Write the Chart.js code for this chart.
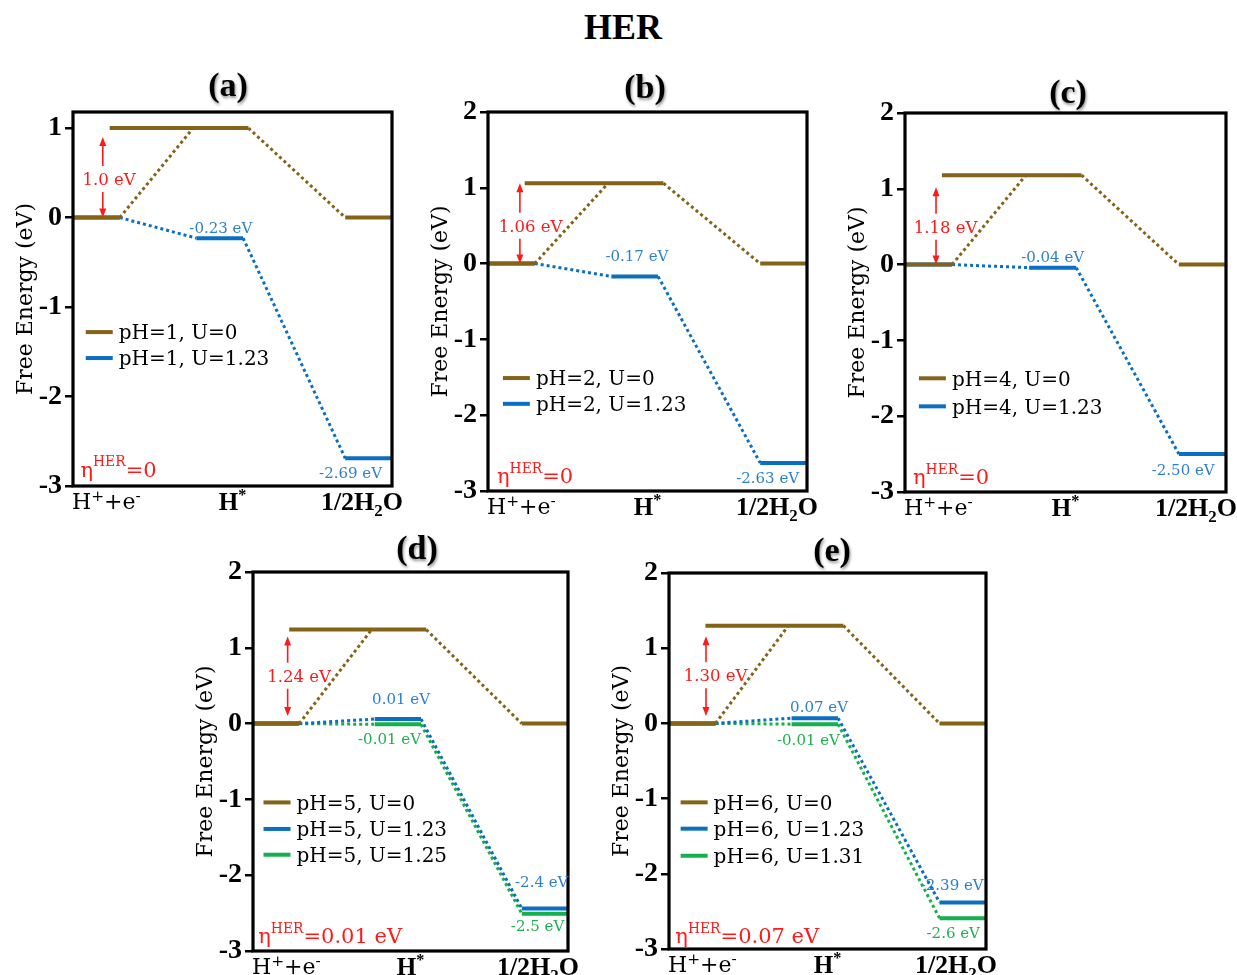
<!DOCTYPE html>
<html><head><meta charset="utf-8">
<script src="https://cdn.jsdelivr.net/npm/chart.js@4.4.1/dist/chart.umd.min.js"></script>
<style>
html,body{margin:0;padding:0;background:#fff;overflow:hidden;width:1237px;height:975px;position:relative;}
canvas{position:absolute;}
.ttl{position:absolute;font-family:"Liberation Serif",serif;font-weight:bold;transform:translate(-50%,-50%);white-space:nowrap;color:#000;line-height:1;}
.pt{font-size:34px;text-shadow:1px 2px 3px rgba(0,0,0,0.45);}
</style></head><body>
<div class="ttl" style="left:623px;top:27px;font-size:36px">HER</div>
<script>
// ---------- DATA ----------
const stepLabels = ['H^{+}+e^{-}', 'H^{*}', '1/2H_{2}O'];
const yTicksA = [1, 0, -1, -2, -3];
const yTicksB = [2, 1, 0, -1, -2, -3];

const namesA = ['pH=1, U=0', 'pH=1, U=1.23'];
const pH1_U0    = [0, 1.00, 0];
const pH1_U123  = [0, -0.23, -2.69];

const namesB = ['pH=2, U=0', 'pH=2, U=1.23'];
const pH2_U0    = [0, 1.06, 0];
const pH2_U123  = [0, -0.17, -2.63];

const namesC = ['pH=4, U=0', 'pH=4, U=1.23'];
const pH4_U0    = [0, 1.18, 0];
const pH4_U123  = [0, -0.04, -2.50];

const namesD = ['pH=5, U=0', 'pH=5, U=1.23', 'pH=5, U=1.25'];
const pH5_U0    = [0, 1.24, 0];
const pH5_U123  = [0, 0.06, -2.44];
const pH5_U125  = [0, -0.01, -2.51];

const namesE = ['pH=6, U=0', 'pH=6, U=1.23', 'pH=6, U=1.31'];
const pH6_U0    = [0, 1.30, 0];
const pH6_U123  = [0, 0.07, -2.38];
const pH6_U131  = [0, -0.01, -2.59];

const barrierLabels = ['1.0 eV', '1.06 eV', '1.18 eV', '1.24 eV', '1.30 eV'];
const etaLabels = ['η^{HER}=0', 'η^{HER}=0', 'η^{HER}=0', 'η^{HER}=0.01 eV', 'η^{HER}=0.07 eV'];
const valueLabelsA = ['-0.23 eV', '-2.69 eV'];
const valueLabelsB = ['-0.17 eV', '-2.63 eV'];
const valueLabelsC = ['-0.04 eV', '-2.50 eV'];
const valueLabelsD = ['0.01 eV', '-0.01 eV', '-2.4 eV', '-2.5 eV'];
const valueLabelsE = ['0.07 eV', '-0.01 eV', '-2.39 eV', '-2.6 eV'];
const panelTitles = ['(a)', '(b)', '(c)', '(d)', '(e)'];

// ---------- STYLE / LAYOUT ----------
const BROWN = '#846317', BLUE = '#0A6FC2', GREEN = '#14B04C', RED = '#FF1A1A';
const TBLUE = '#2F80CC', TGREEN = '#1FB050';
const SERIF = '"DejaVu Serif", serif';
const TSERIF = '"Liberation Serif", serif';
// x-scale layout of the level segments (x axis runs 0..3)
const stepSpan = [[0, 0.44], [1.16, 1.60], [2.56, 3]];
const brownTop = [0.345, 1.65];
const brownRiseEnd = 1.13;

const YW = 75, PADT = 22, PADR = 12, PADB = 36;

const panels = [
  { box:[73,112,392,486], yMax:1.18, ticks:yTicksA, title:panelTitles[0], tpos:[228,85],
    series:[{n:namesA[0], v:pH1_U0, c:BROWN, brown:true},{n:namesA[1], v:pH1_U123, c:BLUE}],
    arrow:{x:0.28, y0:0, y1:0.90, lx:0.34, ly:0.43, t:barrierLabels[0]},
    vl:[{t:valueLabelsA[0], c:TBLUE, x:1.39, y:-0.11},{t:valueLabelsA[1], c:TBLUE, x:2.61, y:-2.85}],
    eta:{t:etaLabels[0], x:0.07, y:-2.81}, leg:{x:0.12, y:[-1.28,-1.57]} },
  { box:[488,112,807,491], yMax:2, ticks:yTicksB, title:panelTitles[1], tpos:[645,87],
    series:[{n:namesB[0], v:pH2_U0, c:BROWN, brown:true},{n:namesB[1], v:pH2_U123, c:BLUE}],
    arrow:{x:0.30, y0:0, y1:1.06, lx:0.40, ly:0.50, t:barrierLabels[1]},
    vl:[{t:valueLabelsB[0], c:TBLUE, x:1.40, y:0.10},{t:valueLabelsB[1], c:TBLUE, x:2.63, y:-2.82}],
    eta:{t:etaLabels[1], x:0.085, y:-2.80}, leg:{x:0.14, y:[-1.51,-1.85]} },
  { box:[905,113,1226,492], yMax:2, ticks:yTicksB, title:panelTitles[2], tpos:[1068,92],
    series:[{n:namesC[0], v:pH4_U0, c:BROWN, brown:true},{n:namesC[1], v:pH4_U123, c:BLUE}],
    arrow:{x:0.29, y0:0, y1:1.02, lx:0.38, ly:0.50, t:barrierLabels[2]},
    vl:[{t:valueLabelsC[0], c:TBLUE, x:1.38, y:0.11},{t:valueLabelsC[1], c:TBLUE, x:2.60, y:-2.70}],
    eta:{t:etaLabels[2], x:0.075, y:-2.80}, leg:{x:0.13, y:[-1.50,-1.87]} },
  { box:[253,572,568,951], yMax:2, ticks:yTicksB, title:panelTitles[3], tpos:[417,548],
    series:[{n:namesD[0], v:pH5_U0, c:BROWN, brown:true},{n:namesD[1], v:pH5_U123, c:BLUE},{n:namesD[2], v:pH5_U125, c:GREEN}],
    arrow:{x:0.33, y0:0.1, y1:1.15, lx:0.44, ly:0.63, t:barrierLabels[3]},
    vl:[{t:valueLabelsD[0], c:TBLUE, x:1.41, y:0.33},{t:valueLabelsD[1], c:TGREEN, x:1.30, y:-0.20},
        {t:valueLabelsD[2], c:TBLUE, x:2.75, y:-2.08},{t:valueLabelsD[3], c:TGREEN, x:2.71, y:-2.66}],
    eta:{t:etaLabels[3], x:0.05, y:-2.80}, leg:{x:0.10, y:[-1.04,-1.39,-1.73]} },
  { box:[669,573,986,949], yMax:2, ticks:yTicksB, title:panelTitles[4], tpos:[832,550],
    series:[{n:namesE[0], v:pH6_U0, c:BROWN, brown:true},{n:namesE[1], v:pH6_U123, c:BLUE},{n:namesE[2], v:pH6_U131, c:GREEN}],
    arrow:{x:0.35, y0:0.1, y1:1.16, lx:0.44, ly:0.64, t:barrierLabels[4]},
    vl:[{t:valueLabelsE[0], c:TBLUE, x:1.42, y:0.23},{t:valueLabelsE[1], c:TGREEN, x:1.32, y:-0.21},
        {t:valueLabelsE[2], c:TBLUE, x:2.68, y:-2.14},{t:valueLabelsE[3], c:TGREEN, x:2.69, y:-2.78}],
    eta:{t:etaLabels[4], x:0.06, y:-2.82}, leg:{x:0.11, y:[-1.05,-1.40,-1.76]} }
];

// ---------- helpers ----------
function parseRich(s){
  const out=[]; const re=/(\^|_)\{([^}]*)\}/g; let last=0, m;
  while((m=re.exec(s))){ if(m.index>last) out.push({t:s.slice(last,m.index),mode:''});
    out.push({t:m[2],mode:m[1]==='^'?'sup':'sub'}); last=re.lastIndex; }
  if(last<s.length) out.push({t:s.slice(last),mode:''});
  return out;
}
function drawRich(ctx, s, x, yMid, o){
  const segs=parseRich(s), size=o.size, small=size*(o.ratio||0.65);
  const f=(sz)=>`${o.weight||'normal'} ${sz}px ${o.family}`;
  let w=0; segs.forEach(g=>{ctx.font=f(g.mode?small:size); g.w=ctx.measureText(g.t).width; w+=g.w;});
  let cx = o.align==='center'? x-w/2 : o.align==='right'? x-w : x;
  const base = yMid + size*0.36;
  ctx.textAlign='left'; ctx.textBaseline='alphabetic'; ctx.fillStyle=o.color;
  segs.forEach(g=>{ ctx.font=f(g.mode?small:size);
    const dy = g.mode==='sup' ? -size*(o.raise||0.38) : g.mode==='sub' ? size*0.22 : 0;
    ctx.fillText(g.t, cx, base+dy); cx+=g.w; });
}
function arrowHead(ctx, x, y, dir){ // dir -1 up, +1 down (tip at x,y)
  ctx.beginPath(); ctx.moveTo(x, y); ctx.lineTo(x-3.5, y-dir*9); ctx.lineTo(x+3.5, y-dir*9); ctx.closePath(); ctx.fill();
}

const diagramPlugin = {
  id:'diagram',
  afterDraw(chart){
    const p = chart.options.plugins.diagram.panel;
    const {ctx, chartArea:ca} = chart; const X=chart.scales.x, Y=chart.scales.y;
    ctx.save();
    // frame
    ctx.strokeStyle='#000'; ctx.lineWidth=3.2;
    ctx.strokeRect(ca.left, ca.top, ca.right-ca.left, ca.bottom-ca.top);
    // y title
    ctx.save(); ctx.translate(ca.left-47, (ca.top+ca.bottom)/2); ctx.rotate(-Math.PI/2);
    ctx.font=`22px ${SERIF}`; ctx.fillStyle='#000'; ctx.textAlign='center'; ctx.textBaseline='middle';
    ctx.fillText('Free Energy (eV)', 0, 0); ctx.restore();
    // x category labels
    const ly = ca.bottom + 15;
    drawRich(ctx, stepLabels[0], ca.left-1, ly, {size:22, family:SERIF, color:'#000', ratio:0.7, raise:0.36});
    drawRich(ctx, stepLabels[1], X.getPixelForValue(1.5), ly, {size:25, family:TSERIF, weight:'bold', color:'#000', align:'center', ratio:0.65, raise:0.4});
    drawRich(ctx, stepLabels[2], ca.right+11, ly, {size:26, family:TSERIF, weight:'bold', color:'#000', align:'right', ratio:0.65});
    // barrier arrow
    const a=p.arrow, ax=X.getPixelForValue(a.x), y0=Y.getPixelForValue(a.y0), y1=Y.getPixelForValue(a.y1), lyy=Y.getPixelForValue(a.ly);
    ctx.strokeStyle=RED; ctx.fillStyle=RED; ctx.lineWidth=1.6;
    ctx.beginPath(); ctx.moveTo(ax, y1+6); ctx.lineTo(ax, lyy-13); ctx.moveTo(ax, lyy+13); ctx.lineTo(ax, y0-6); ctx.stroke();
    arrowHead(ctx, ax, y1, -1); arrowHead(ctx, ax, y0, 1);
    drawRich(ctx, a.t, X.getPixelForValue(a.lx), lyy, {size:16.5, family:SERIF, color:RED, align:'center'});
    // value labels
    p.vl.forEach(v=> drawRich(ctx, v.t, X.getPixelForValue(v.x), Y.getPixelForValue(v.y), {size:15, family:SERIF, color:v.c, align:'center'}));
    // eta
    drawRich(ctx, p.eta.t, X.getPixelForValue(p.eta.x), Y.getPixelForValue(p.eta.y), {size:21, family:SERIF, color:RED, ratio:0.66, raise:0.5});
    // legend
    const lx = X.getPixelForValue(p.leg.x);
    p.series.forEach((s,i)=>{
      const yy = Y.getPixelForValue(p.leg.y[i]);
      ctx.strokeStyle=s.c; ctx.lineWidth=4; ctx.lineCap='butt';
      ctx.beginPath(); ctx.moveTo(lx, yy); ctx.lineTo(lx+27, yy); ctx.stroke();
      drawRich(ctx, s.n, lx+33, yy, {size:20, family:SERIF, color:'#000'});
    });
    ctx.restore();
  }
};

function levelPoints(v, brown){
  const pts=[];
  stepSpan.forEach((sp,i)=>{
    const s = (brown && i===1) ? brownTop : sp;
    if(i>0) pts.push({x:(s[0]+pts[pts.length-1].x)/2, y:null});
    pts.push({x:s[0], y:v[i]}, {x:s[1], y:v[i]});
  });
  return pts;
}
function linkPoints(v, brown){
  const end1 = brown ? brownRiseEnd : stepSpan[1][0];
  const start2 = brown ? brownTop[1] : stepSpan[1][1];
  return [{x:stepSpan[0][1], y:v[0]}, {x:end1, y:v[1]}, {x:(end1+start2)/2, y:null},
          {x:start2, y:v[1]}, {x:stepSpan[2][0], y:v[2]}];
}

panels.forEach((p, idx)=>{
  const [L,T,R,B] = p.box;
  const cv = document.createElement('canvas');
  const w = (R-L)+YW+PADR, h = (B-T)+PADT+PADB;
  cv.width=w; cv.height=h; cv.style.left=(L-YW)+'px'; cv.style.top=(T-PADT)+'px';
  cv.style.width=w+'px'; cv.style.height=h+'px';
  document.body.appendChild(cv);
  const t = document.createElement('div'); t.className='ttl pt'; t.textContent=p.title;
  t.style.left=p.tpos[0]+'px'; t.style.top=p.tpos[1]+'px'; document.body.appendChild(t);

  const ds=[];
  // dataset 0 is drawn last (on top): brown U=0 levels on top
  p.series.forEach(s=>{
    ds.push({data:levelPoints(s.v, s.brown), borderColor:s.c, borderWidth:4, borderCapStyle:'butt', spanGaps:false, pointRadius:0});
  });
  p.series.forEach(s=>{
    ds.push({data:linkPoints(s.v, s.brown), borderColor:s.c, borderWidth:3, borderDash:[3,3], borderCapStyle:'butt', spanGaps:false, pointRadius:0});
  });
  new Chart(cv, {
    type:'line',
    data:{datasets:ds},
    options:{
      responsive:false, animation:false, devicePixelRatio:1,
      layout:{padding:{left:0, top:PADT, right:PADR, bottom:PADB}},
      plugins:{legend:{display:false}, tooltip:{enabled:false}, title:{display:false}, diagram:{panel:p}},
      elements:{point:{radius:0}, line:{tension:0}},
      scales:{
        x:{type:'linear', min:0, max:3, display:false, ticks:{display:false}},
        y:{type:'linear', min:-3, max:p.yMax,
           afterFit(s){ s.width=YW; },
           afterBuildTicks(s){ s.ticks = p.ticks.map(v=>({value:v})); },
           grid:{drawOnChartArea:false, drawTicks:true, tickLength:8, color:'#000', lineWidth:2.5},
           border:{display:false},
           ticks:{autoSkip:false, color:'#000', padding:3, font:{family:'Liberation Serif', weight:'bold', size:28},
                  callback:(v)=>String(v)}}
      }
    },
    plugins:[diagramPlugin]
  });
});
</script>
</body></html>
